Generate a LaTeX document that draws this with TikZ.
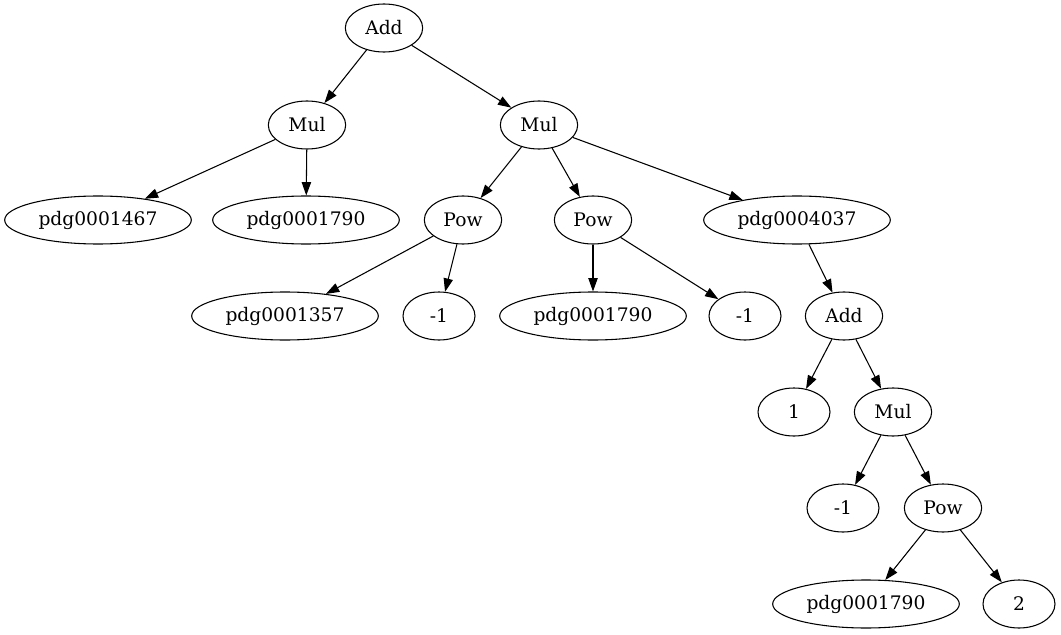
\documentclass[tikz,border=0pt]{standalone}
\usepackage{fontspec}
\setmainfont{DejaVu Serif}
\usetikzlibrary{shapes.geometric,arrows.meta}
\begin{document}
\begin{tikzpicture}[x=0.75pt,y=-0.75pt,
  nd/.style={draw,ellipse,inner sep=0pt,minimum height=36pt,line width=0.8pt,font=\fontsize{14}{16}\selectfont},
  w54/.style={nd,minimum width=54pt},
  w58/.style={nd,minimum width=58pt},
  w140/.style={nd,minimum width=140pt},
  edge/.style={line width=0.8pt,-{Triangle[length=10pt,width=7pt]}}]
\useasboundingbox (0,0) rectangle (1061,635);
\node[w58] (add1) at (384,28) {Add};
\node[w58] (mulL) at (307,125) {Mul};
\node[w58] (mulR) at (539,125) {Mul};
\node[w140] (p1467) at (98,220) {pdg0001467};
\node[w140] (p1790a) at (306,220) {pdg0001790};
\node[w58] (pow1) at (463,220) {Pow};
\node[w58] (pow2) at (593,220) {Pow};
\node[w140] (p4037) at (797,220) {pdg0004037};
\node[w140] (p1357) at (285,316) {pdg0001357};
\node[w54] (m1a) at (439,316) {-1};
\node[w140] (p1790b) at (593,316) {pdg0001790};
\node[w54] (m1b) at (745,316) {-1};
\node[w58] (add2) at (844,316) {Add};
\node[w54] (one) at (794,412) {1};
\node[w58] (mul3) at (893,412) {Mul};
\node[w54] (m1c) at (843,508) {-1};
\node[w58] (pow3) at (943,508) {Pow};
\node[w140] (p1790c) at (866,604) {pdg0001790};
\node[w54] (two) at (1019,604) {2};
\draw[edge] (add1) -- (mulL);
\draw[edge] (add1) -- (mulR);
\draw[edge] (mulL) -- (p1467);
\draw[edge] (mulL) -- (p1790a);
\draw[edge] (mulR) -- (pow1);
\draw[edge] (mulR) -- (pow2);
\draw[edge] (mulR) -- (p4037);
\draw[edge] (pow1) -- (p1357);
\draw[edge] (pow1) -- (m1a);
\draw[edge] (pow2) -- (p1790b);
\draw[edge] (pow2) -- (m1b);
\draw[edge] (p4037) -- (add2);
\draw[edge] (add2) -- (one);
\draw[edge] (add2) -- (mul3);
\draw[edge] (mul3) -- (m1c);
\draw[edge] (mul3) -- (pow3);
\draw[edge] (pow3) -- (p1790c);
\draw[edge] (pow3) -- (two);
\end{tikzpicture}
\end{document}
